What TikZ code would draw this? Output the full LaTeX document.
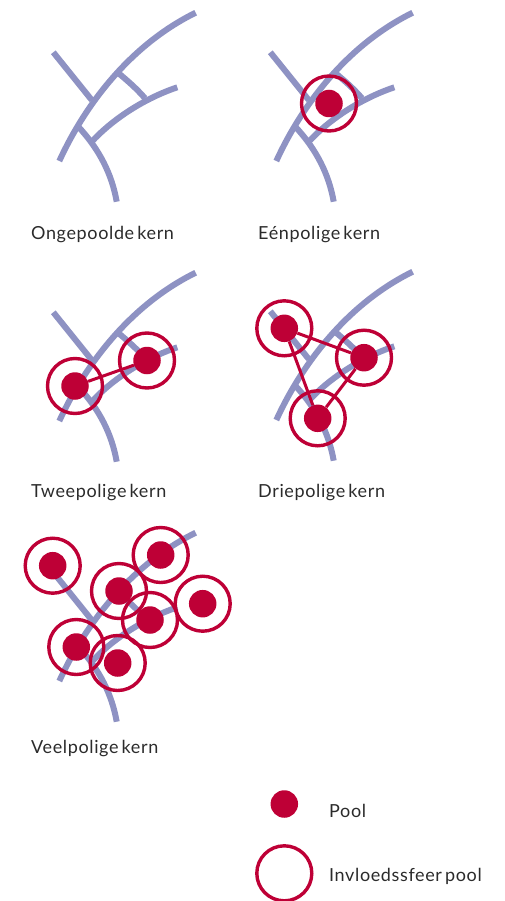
\documentclass[tikz,border=0pt]{standalone}
\usepackage{fontspec}
\setmainfont{Lato}[LetterSpace=3.5,WordSpace=0.6]
\definecolor{wegblauw}{HTML}{8E92C3}
\definecolor{poolrood}{HTML}{BE0036}
\definecolor{tekstgrijs}{HTML}{2B2B2B}
\begin{document}
\begin{tikzpicture}[x=1pt,y=-1pt,
 weg/.style={draw=wegblauw,line width=6pt},
 pool/.style={circle,fill=poolrood,inner sep=0,minimum size=27.5pt},
 invloed/.style={circle,draw=poolrood,line width=3.4pt,inner sep=0,minimum size=55pt},
 verbinding/.style={draw=poolrood,line width=3pt},
 titel/.style={anchor=base west,inner sep=0,text=tekstgrijs,font=\fontsize{18}{20}\selectfont}]
\useasboundingbox (0,0) rectangle (505,901);
\foreach \dx/\dy in {0/0,217/0,0/260,217/259,0/520} {
 \begin{scope}[shift={(\dx,\dy)}]
 \draw[weg] (59.3,161) .. controls (85,105) and (130,45) .. (195.7,12.7);
 \draw[weg] (53.3,52.3) -- (91.7,100);
 \draw[weg] (91.7,141.7) .. controls (110,122) and (140,100) .. (177.3,87.3);
 \draw[weg] (116.7,71.7) .. controls (128,81) and (137,89) .. (145,98.3);
 \draw[weg] (78.3,126.7) .. controls (100,150) and (112,175) .. (116.7,201.7);
 \end{scope}
}
\foreach \naam/\px/\py in {b/329/103.5,ca/75/386,cb/147/360.5,da/284.3/328.3,db/364/357.7,dc/317.7/418.3,
 ea/52.7/565.7,eb/160.7/555,ec/119/591,ed/150/620,ee/202.7/603.7,ef/76.3/647,eg/117.7/663,la/284.3/804} {
 \node[pool] (\naam) at (\px,\py) {};
}
\foreach \naam/\px/\py in {rb/329/103.5,rca/75/386,rcb/147/360.5,rda/284.3/328.3,rdb/364/357.7,rdc/317.7/418.3,
 rea/52.7/565.7,reb/160.7/555,rec/119/591,red/150/620,ree/202.7/603.7,ref/76.3/647,reg/117.7/663,rl/284.3/873.3} {
 \node[invloed] (\naam) at (\px,\py) {};
}
\draw[verbinding] (ca) -- (cb);
\draw[verbinding] (da) -- (db);
\draw[verbinding] (db) -- (dc);
\draw[verbinding] (dc) -- (da);
\node[titel] (ta) at (31,240) {Ongepoolde kern};
\node[titel] (tb) at (258,240) {Eénpolige kern};
\node[titel] (tc) at (31,497) {Tweepolige kern};
\node[titel] (td) at (258,497) {Driepolige kern};
\node[titel] (te) at (31,753) {Veelpolige kern};
\node[titel] (lp) at (329,817) {Pool};
\node[titel] (li) at (329,881) {Invloedssfeer pool};
\end{tikzpicture}
\end{document}
